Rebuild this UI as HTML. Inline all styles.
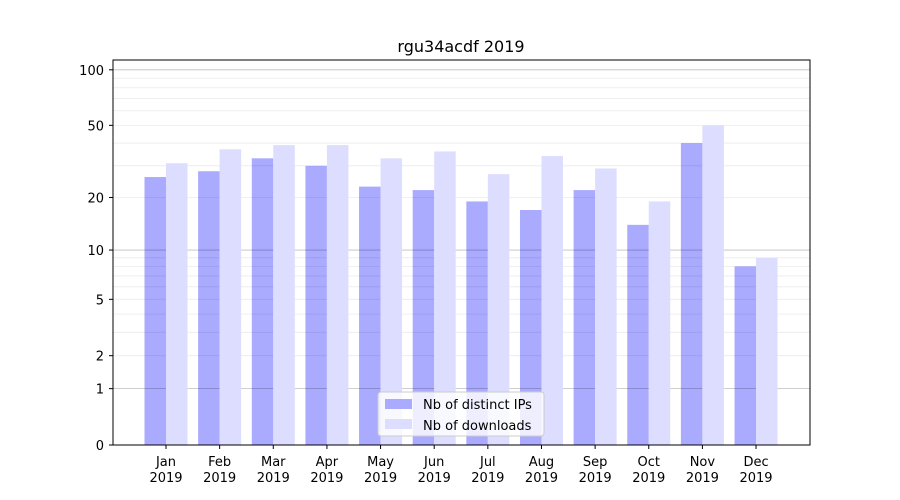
<!DOCTYPE html>
<html><head><style>body{margin:0;background:#fff}svg{display:block}text{font-family:"DejaVu Sans","Liberation Sans",sans-serif;font-size:13px;fill:#000}</style></head>
<body>
<svg width="900" height="500" xmlns="http://www.w3.org/2000/svg">
<rect width="900" height="500" fill="#fff"/>
<g id="bars1"></g>
<g id="grid"></g>
<g id="bars2"></g>
<rect x="113" y="60" width="697" height="385" fill="none" stroke="#000" stroke-width="1"/>
<g id="ticks"></g>
<text x="461" y="52" text-anchor="middle" style="font-size:16px">rgu34acdf 2019</text>
<g>
<rect x="378" y="392" width="166" height="44" rx="3" fill="#fff" fill-opacity="0.8" stroke="#ccc"/>
<rect x="385" y="399" width="27" height="10" fill="#aaaaff"/>
<text x="423" y="409">Nb of distinct IPs</text>
<rect x="385" y="419" width="27" height="10" fill="#ddddff"/>
<text x="423" y="430">Nb of downloads</text>
</g>
</svg>
<script>
const Y=v=>445-187.2*Math.log10(1+v);
const ns="http://www.w3.org/2000/svg";
function el(p,t,a,txt){const e=document.createElementNS(ns,t);for(const k in a)e.setAttribute(k,a[k]);if(txt!=null)e.textContent=txt;document.getElementById(p).appendChild(e);return e;}
const minors=[];for(let v=2;v<10;v++)minors.push(v);for(let v=20;v<100;v+=10)minors.push(v);
minors.forEach(v=>{const y=Y(v);el("grid","line",{x1:113,x2:810,y1:y,y2:y,stroke:"#000","stroke-opacity":0.08,"stroke-width":0.8});});
[1,10,100].forEach(v=>{const y=Y(v);el("grid","line",{x1:113,x2:810,y1:y,y2:y,stroke:"#000","stroke-opacity":0.25,"stroke-width":0.8});});
const ips=[26,28,33,30,23,22,19,17,22,14,40,8],dl=[31,37,39,39,33,36,27,34,29,19,50,9];
const m=["Jan","Feb","Mar","Apr","May","Jun","Jul","Aug","Sep","Oct","Nov","Dec"];
for(let i=0;i<12;i++){const c=166+i*53.64;
el("bars1","rect",{x:c-21.5,y:Y(ips[i]),width:21.5,height:445-Y(ips[i]),fill:"#aaaaff"});
el("bars2","rect",{x:c,y:Y(dl[i]),width:21.5,height:445-Y(dl[i]),fill:"#ddddff"});
el("ticks","line",{x1:c,x2:c,y1:445,y2:449,stroke:"#000"});
el("ticks","text",{x:c,y:466,"text-anchor":"middle"},m[i]);
el("ticks","text",{x:c,y:482,"text-anchor":"middle"},"2019");}
[0,1,2,5,10,20,50,100].forEach(v=>{const y=Y(v);el("ticks","line",{x1:109,x2:113,y1:y,y2:y,stroke:"#000"});el("ticks","text",{x:104,y:y+5,"text-anchor":"end"},String(v));});
</script>
</body></html>
